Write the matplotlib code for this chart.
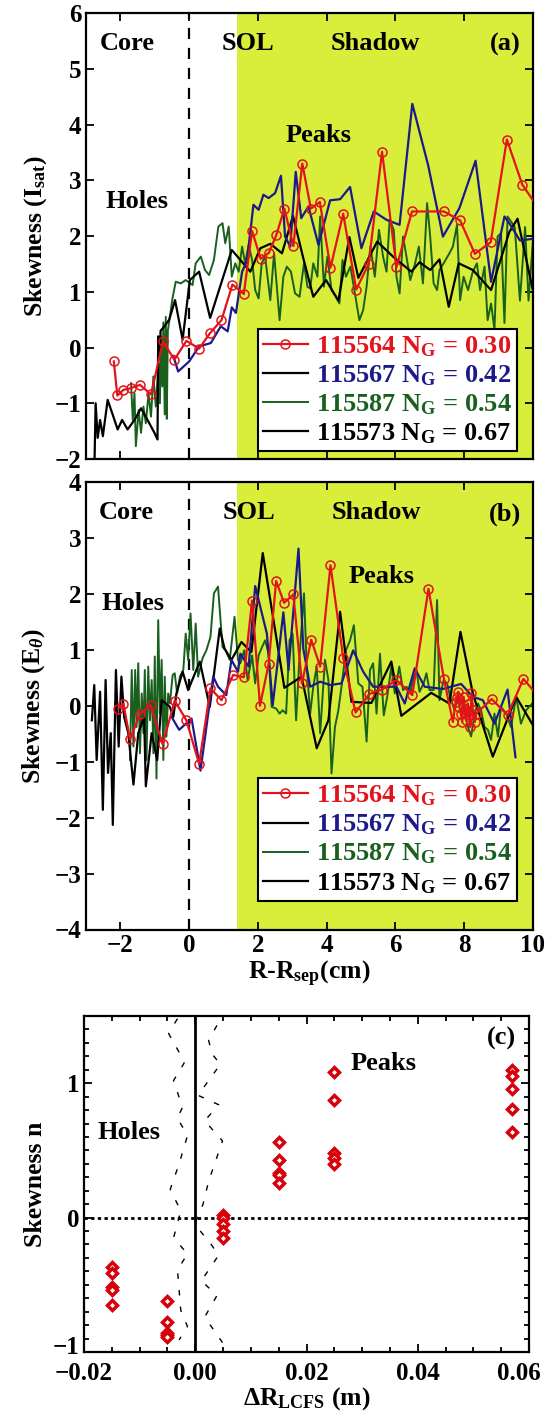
import matplotlib
matplotlib.use("Agg")
import matplotlib.pyplot as plt
from matplotlib.lines import Line2D
from matplotlib.ticker import MultipleLocator, FuncFormatter
from matplotlib.transforms import ScaledTranslation

# ----------------------------------------------------------------
# Data
# ----------------------------------------------------------------
# panel (a): skewness of I_sat
A_RED_X = [-2.19, -2.09, -1.91, -1.70, -1.43, -1.11, -0.76, -0.43, -0.08, 0.29, 0.61, 0.94, 1.26,
           1.59, 1.83, 2.08, 2.32, 2.53, 2.77, 3.03, 3.29, 3.54, 3.80, 4.11, 4.48, 4.86, 5.22, 5.61,
           6.03, 6.48, 7.41, 7.88, 8.31, 8.77, 9.24, 9.69, 10.0]
A_RED_Y = [-0.25, -0.86, -0.76, -0.73, -0.67, -0.84, 0.11, -0.22, 0.12, -0.02, 0.26, 0.49, 1.13,
           0.96, 2.09, 1.59, 1.70, 2.01, 2.49, 1.82, 3.30, 2.49, 2.61, 1.43, 2.40, 1.04, 1.50, 3.51,
           1.44, 2.44, 2.44, 2.28, 1.68, 1.89, 3.73, 2.92, 2.64]

A_BLUE_X = [-0.46, -0.32, 0.0, 0.29, 0.63, 0.92, 1.12, 1.24, 1.36, 1.54, 1.68, 1.87, 2.02, 2.16,
            2.31, 2.50, 2.67, 2.79, 2.94, 3.10, 3.26, 3.47, 3.76, 4.10, 4.39, 4.68, 5.01, 5.37,
            5.74, 6.12, 6.49, 6.95, 7.38, 7.86, 8.33, 8.78, 9.17, 9.31, 9.62, 10.0]
A_BLUE_Y = [-0.15, -0.43, -0.25, 0.02, 0.08, 0.38, 0.29, 0.72, 0.62, 1.36, 1.55, 2.56, 2.47, 2.74,
            2.68, 2.77, 3.08, 1.99, 1.81, 3.15, 2.32, 2.53, 1.84, 2.64, 2.66, 2.88, 1.78, 2.44,
            2.29, 2.20, 4.37, 3.27, 1.99, 2.50, 3.35, 1.18, 2.35, 2.23, 1.92, 1.95]

A_GREEN_X = [-1.69, -1.64, -1.59, -1.55, -1.47, -1.40, -1.33, -1.26, -1.18, -1.11, -1.04, -0.97,
             -0.89, -0.85, -0.82, -0.78, -0.75, -0.71, -0.68, -0.65, -0.62, -0.55, -0.48, -0.39,
             -0.24, -0.10, 0.10, 0.19, 0.34, 0.46, 0.58, 0.72, 0.85, 0.97,
             1.05, 1.15, 1.24, 1.34, 1.44, 1.54, 1.63, 1.73, 1.83, 1.92, 2.02, 2.11, 2.21, 2.36,
             2.47, 2.63, 2.74, 2.84, 2.96, 3.08, 3.21, 3.34, 3.44, 3.52, 3.61, 3.73, 3.81, 3.92,
             4.02, 4.14, 4.27, 4.37, 4.46, 4.56, 4.69, 4.82, 4.95, 5.06, 5.16, 5.27, 5.40, 5.52,
             5.64, 5.74, 5.83, 5.95, 6.03, 6.12, 6.22, 6.32, 6.43, 6.56, 6.68, 6.80, 6.92, 7.01,
             7.11, 7.21, 7.28, 7.40, 7.57, 7.67, 7.79, 7.88, 7.98, 8.11, 8.25, 8.37, 8.46, 8.59,
             8.68, 8.78, 8.88, 8.97, 9.07, 9.17, 9.26, 9.47, 9.62, 9.77, 9.87, 10.0]
A_GREEN_Y = [-0.64, -1.30, -0.82, -1.77, -1.12, -1.53, -1.06, -1.36, -0.82, -1.24, -0.52, -1.06,
             -0.28, -1.00, 0.20, -0.70, 0.45, -1.20, 0.55, -1.28, 0.30, 0.60, 0.90, 1.18,
             1.15, 1.21, 1.12, 1.51, 1.63, 1.39, 1.30, 1.57, 2.17, 2.23,
             1.87, 2.17, 1.27, 1.51, 1.36, 1.81, 1.51, 1.84, 1.57, 1.03, 0.88, 1.51, 1.63, 0.85,
             1.69, 0.49, 1.27, 1.45, 1.36, 0.97, 0.91, 1.51, 1.09, 1.06, 1.51, 1.27, 2.35, 1.09,
             1.63, 1.03, 0.91, 0.79, 1.57, 1.27, 1.45, 0.97, 0.49, 0.67, 1.09, 1.81, 1.27, 2.11,
             1.63, 1.36, 2.29, 2.11, 1.27, 0.97, 1.99, 1.63, 1.21, 1.48, 1.81, 1.15, 2.59, 1.99,
             1.15, 1.03, 1.39, 1.51, 1.69, 1.81, 2.20, 0.85, 1.27, 1.03, 1.36, 1.51, 1.03, 1.45,
             0.49, 0.79, 0.32, 1.99, 2.05, 0.44, 2.35, 2.16, 0.84, 2.16, 0.84, 1.92]

A_BLACK_X = [-2.75, -2.72, -2.66, -2.59, -2.51, -2.37, -2.22, -2.08, -1.95, -1.79, -1.59, -1.40,
             -1.21, -1.01, -0.92, -0.90, -0.86, -0.83, -0.72, -0.58, -0.41, -0.19, 0.02, 0.29,
             0.61, 1.24, 1.78, 2.07, 2.36, 2.70, 3.02, 3.32, 3.61, 3.98, 4.34, 4.66, 4.92, 5.47,
             5.93, 6.46, 6.70, 7.01, 7.28, 7.55, 7.84, 8.25, 8.78, 9.31, 9.55, 10.0]
A_BLACK_Y = [-1.98, -1.00, -1.62, -1.30, -1.59, -0.94, -1.21, -1.47, -1.30, -1.47, -1.30, -1.09,
             -1.30, -1.53, -1.65, 0.20, -0.15, 0.30, 0.38, 0.50, 0.85, 0.14, 1.21, 1.36,
             0.53, 1.75, 1.36, 1.78, 1.86, 1.69, 2.36, 1.60, 0.91, 1.21, 0.84, 1.98, 1.25, 1.90,
             1.63, 1.36, 1.53, 1.39, 1.58, 0.73, 1.51, 1.39, 1.03, 2.07, 2.31, 1.02]

# panel (b): skewness of E_theta
B_RED_X = [-2.06, -1.91, -1.72, -1.43, -1.12, -0.77, -0.42, -0.08, 0.29, 0.62, 0.94, 1.28, 1.59,
           1.83, 2.06, 2.31, 2.53, 2.76, 3.03, 3.28, 3.55, 3.81, 4.11, 4.48, 4.84, 5.24, 5.61,
           6.03, 6.49, 6.96, 7.41, 7.67, 7.75, 7.79, 7.83, 7.86, 7.90, 7.94, 7.98, 8.02, 8.06,
           8.10, 8.13, 8.17, 8.21, 8.25, 8.31, 8.35, 8.80, 9.26, 9.72, 10.0]
B_RED_Y = [-0.05, 0.03, -0.60, -0.15, 0.01, -0.69, 0.09, -0.26, -1.04, 0.31, 0.10, 0.55, 0.51,
           1.88, 0.00, 0.74, 2.23, 1.84, 1.99, 0.40, 1.18, 0.70, 2.51, 0.86, -0.12, 0.21, 0.29,
           0.46, 0.19, 2.09, 0.48, -0.29, 0.07, 0.16, 0.25, -0.02, -0.14, -0.29, 0.16, -0.05, -0.26,
           0.04, -0.17, -0.38, 0.22, -0.08, -0.29, -0.14, 0.12, -0.17, 0.48, 0.28]

B_BLUE_X = [-0.51, -0.29, 0.07, 0.33, 0.70, 0.84, 1.08, 1.23, 1.42, 1.49, 1.73, 1.92, 2.26, 2.43,
            2.74, 2.89, 3.18, 3.32, 3.52, 3.81, 4.10, 4.43, 4.77, 5.06, 5.35, 5.74, 6.03, 6.27,
            6.56, 6.85, 7.38, 7.91, 8.25, 8.54, 8.88, 9.26, 9.49]
B_BLUE_Y = [-0.20, -0.43, -0.23, -1.16, 0.52, 0.34, 0.19, 0.82, 0.61, 0.93, 0.70, 2.14, 1.29, 0.01,
            1.67, 0.64, 2.81, 1.02, 0.34, 0.43, 0.37, 0.40, 0.99, 0.61, 0.34, 0.34, 0.34, 0.04,
            0.67, 0.34, 0.30, 0.39, 0.16, 0.10, -0.32, 0.29, -0.92]

B_GREEN_X = [-1.72, -1.67, -1.62, -1.57, -1.53, -1.48, -1.43, -1.38, -1.33, -1.29, -1.24, -1.19,
             -1.14, -1.09, -1.04, -1.00, -0.95, -0.90, -0.85, -0.80, -0.75, -0.71, -0.66, -0.61,
             -0.56, -0.48, -0.42, -0.35, -0.27, -0.17, -0.10, -0.03, 0.04, 0.12, 0.19, 0.26,
             0.39, 0.50, 0.62, 0.72, 0.84, 0.97, 1.06, 1.18, 1.32, 1.42,
             1.49, 1.60, 1.70, 1.83, 1.92, 2.02, 2.12, 2.21, 2.31, 2.40, 2.53, 2.63, 2.72, 2.82,
             2.92, 3.01, 3.11, 3.21, 3.34, 3.42, 3.52, 3.61, 3.71, 3.81, 3.95, 4.05, 4.14, 4.24,
             4.34, 4.43, 4.56, 4.68, 4.79, 4.92, 5.04, 5.16, 5.26, 5.35, 5.45, 5.55, 5.66, 5.76,
             5.88, 5.98, 6.11, 6.22, 6.32, 6.43, 6.51, 6.61, 6.70, 6.82, 6.90, 6.99, 7.11, 7.21,
             7.28, 7.40, 7.50, 7.59, 7.72, 7.82, 7.91, 8.01, 8.11, 8.20, 8.30, 8.40, 8.49, 8.59,
             8.69, 8.78, 8.88, 8.98, 9.07, 9.22, 9.36, 9.51, 9.65, 9.80, 9.98]
B_GREEN_Y = [-0.97, 0.64, -0.73, 0.64, -0.38, 0.76, -0.85, 0.22, -0.49, 0.64, -0.97, 0.70,
             -0.26, 0.46, -0.85, 0.88, -1.30, 1.53, -0.14, 0.82, -0.97, 0.52, -0.55, 0.22,
             0.04, 0.55, 0.58, 0.22, 0.52, 0.64, 1.29, 0.82, 1.65, 0.64, 1.47, 0.52,
             0.85, 0.99, 1.23, 2.01, 2.13, 1.05, 0.99, 0.82, 1.59, 0.82,
             0.76, 0.99, 0.46, 0.90, 0.40, 0.90, 1.05, 1.17, 0.93, -0.02, -0.05, -0.14, -0.08, -0.14,
             1.17, 1.29, -0.26, 0.88, 2.01, 0.70, -0.14, 0.34, 0.70, -0.49, 0.82, 0.46, -1.21, -0.38,
             -0.08, 0.34, 0.99, 1.17, 1.44, 0.40, 0.34, -0.64, 0.64, 0.76, -0.14, 0.93, -0.17, 0.16,
             0.70, 0.22, 0.70, 0.28, 0.34, 0.22, 0.46, 0.64, 0.25, 0.40, 0.58, 0.28, 0.28, 1.89,
             0.10, 0.46, 0.40, 0.16, -0.08, 0.16, 0.10, -0.14, -0.38, -0.55, -0.14, 0.04, -0.08, -0.38,
             -0.43, -0.61, -0.14, -0.55, -0.02, -0.14, -0.38, 0.16, -0.32, -0.08, 0.04]

B_BLACK_X = [-2.83, -2.76, -2.69, -2.59, -2.51, -2.43, -2.36, -2.28, -2.22, -2.13, -2.05, -1.97,
             -1.89, -1.77, -1.62, -1.48, -1.31, -1.26, -1.09, -0.93, -0.80, -0.56, -0.46, -0.37,
             -0.19, -0.03, 0.31, 0.60, 0.89, 1.03, 1.23, 1.52, 1.81, 2.14, 2.77, 3.27, 3.71, 4.05,
             4.39, 4.72, 5.30, 5.88, 6.17, 7.04, 7.57, 7.89, 8.25, 8.83, 9.51, 10.0]
B_BLACK_Y = [-0.26, 0.37, -0.97, 0.25, -1.86, 0.46, -1.20, -0.49, -2.13, 0.64, -0.73, 0.52,
             -0.20, -0.49, -1.41, -0.49, -0.20, -1.44, -0.49, -0.97, 0.10, -0.02, -0.20, 0.22,
             0.61, 0.28, 0.79, -0.02, 1.38, 1.02, 0.82, 1.14, 0.96, 2.73, 0.32, 0.52, -0.76, -0.26,
             1.68, 0.07, 0.05, 0.79, -0.18, 0.23, 0.04, 1.32, 0.22, -0.91, 0.16, -0.35]

SHOTS = ["115564", "115567", "115587", "115573"]
NG = ["0.30", "0.42", "0.54", "0.67"]

# panel (c): skewness of density vs distance to LCFS
C_X = [-0.015] * 5 + [-0.005] * 5 + [0.005] * 5 + [0.015] * 5 + [0.025] * 5 + [0.057] * 5
C_Y = [-0.37, -0.41, -0.52, -0.54, -0.65,
       -0.62, -0.78, -0.855, -0.87, -0.885,
       0.02, 0.0, -0.05, -0.10, -0.15,
       0.56, 0.43, 0.335, 0.315, 0.256,
       1.086, 0.874, 0.483, 0.446, 0.397,
       1.098, 1.054, 0.96, 0.808, 0.638]

# dashed curves around the LCFS in panel (c)
C_DASH_L_X = [-0.0032, -0.0048, -0.0029, -0.0020, -0.0039, -0.0023, -0.0032, -0.0014, -0.0029,
              -0.0045, -0.0026, -0.0039, -0.0014, -0.0032, -0.0026, -0.0014, -0.0029]
C_DASH_L_Y = [1.48, 1.37, 1.23, 1.15, 1.02, 0.82, 0.74, 0.61, 0.40, 0.21, 0.05, -0.15, -0.27,
              -0.39, -0.69, -0.81, -0.91]
C_DASH_R_X = [0.0039, 0.0024, 0.0030, 0.0045, 0.0005, 0.0042, 0.0017, 0.0049, 0.0024, 0.0014,
              -0.0001, 0.0027, 0.0042, 0.0011, 0.0039, 0.0017, 0.0049]
C_DASH_R_Y = [1.43, 1.32, 1.22, 1.14, 0.91, 0.84, 0.72, 0.57, 0.27, 0.10, -0.05, -0.19, -0.28,
              -0.47, -0.58, -0.74, -0.93]

# ----------------------------------------------------------------
# Style
# ----------------------------------------------------------------
RED = "#e3131b"
BLUE = "#1c1a8a"
GREEN = "#19601f"
BLACK = "#000000"
SHADE = "#d9ed3b"
C_RED = "#d8000a"

plt.rcParams["font.family"] = ["Liberation Serif", "DejaVu Serif"]
plt.rcParams["font.weight"] = "bold"
plt.rcParams["axes.labelweight"] = "bold"
plt.rcParams["mathtext.fontset"] = "custom"
plt.rcParams["mathtext.rm"] = "Liberation Serif:bold"
plt.rcParams["mathtext.it"] = "Liberation Serif:italic:bold"
plt.rcParams["mathtext.bf"] = "Liberation Serif:bold"
plt.rcParams["axes.linewidth"] = 1.6

TICK_FS = 18
LABEL_FS = 18.5
TEXT_FS = 19
LEG_FS = 19

W, H = 545, 1418
fig = plt.figure(figsize=(W / 100, H / 100), dpi=100)


def frac(left, top, right, bottom):
    return [left / W, 1 - bottom / H, (right - left) / W, (bottom - top) / H]


ax_a = fig.add_axes(frac(86, 13, 533, 459))
ax_b = fig.add_axes(frac(86, 482, 533, 929.5))
ax_c = fig.add_axes(frac(84, 1016, 529, 1352))


def style_ticks(ax):
    ax.tick_params(axis="both", which="both", direction="in", top=True, right=True,
                   labelsize=TICK_FS, width=1.3)
    ax.tick_params(which="major", length=6)
    ax.tick_params(which="minor", length=3.5)


def profile_panel(ax, reds, blues, greens, blacks, ylim, tag, legend_y, texts):
    ax.axvspan(1.4, 10, color=SHADE, lw=0, zorder=0)
    ax.axvline(0, color="black", lw=1.6, ls=(0, (5, 4)), zorder=1)
    ax.plot(*greens, color=GREEN, lw=1.4, zorder=2)
    ax.plot(*blacks, color=BLACK, lw=1.6, zorder=3)
    ax.plot(*blues, color=BLUE, lw=1.6, zorder=4)
    ax.plot(*reds, color=RED, lw=1.6, marker="o", ms=6.5, mfc="none", mew=1.1,
            markevery=slice(0, len(reds[0]) - 1), zorder=5)
    ax.set_xlim(-3, 10)
    ax.set_ylim(*ylim)
    ax.xaxis.set_major_locator(MultipleLocator(2))
    ax.yaxis.set_major_locator(MultipleLocator(1))
    style_ticks(ax)

    for label, x, y in texts:
        ax.text(x, y, label, fontsize=TEXT_FS, ha="center", va="center", zorder=6)
    ax.text(9.18, ylim[1] - 0.57, tag, fontsize=TEXT_FS, ha="center", va="center", zorder=6)

    handles = [
        Line2D([], [], color=RED, lw=1.6, marker="o", ms=6.5, mfc="none", mew=1.1),
        Line2D([], [], color=BLACK, lw=1.6),
        Line2D([], [], color=GREEN, lw=1.4),
        Line2D([], [], color=BLACK, lw=1.6),
    ]
    labels = [f"{s} N$_{{\\rm G}}$ = {n}" for s, n in zip(SHOTS, NG)]
    leg = ax.legend(handles, labels, loc="lower right", bbox_to_anchor=(0.964, legend_y),
                    fontsize=LEG_FS, frameon=True, fancybox=False, edgecolor="black",
                    framealpha=1, borderaxespad=0, borderpad=0.2, labelspacing=0.17,
                    handlelength=1.7, handletextpad=0.3)
    leg.get_frame().set_linewidth(1.5)
    leg.set_zorder(10)
    for txt, c in zip(leg.get_texts(), [RED, BLUE, GREEN, BLACK]):
        txt.set_color(c)


profile_panel(ax_a, (A_RED_X, A_RED_Y), (A_BLUE_X, A_BLUE_Y), (A_GREEN_X, A_GREEN_Y),
              (A_BLACK_X, A_BLACK_Y), (-2, 6), "(a)", 0.017,
              [("Core", -1.81, 5.46), ("SOL", 1.71, 5.46), ("Shadow", 5.41, 5.46),
               ("Peaks", 3.76, 3.81), ("Holes", -1.51, 2.61)])
ax_a.tick_params(labelbottom=False)
ax_a.set_ylabel("Skewness (I$_{\\rm sat}$)", fontsize=LABEL_FS, labelpad=4)

profile_panel(ax_b, (B_RED_X, B_RED_Y), (B_BLUE_X, B_BLUE_Y), (B_GREEN_X, B_GREEN_Y),
              (B_BLACK_X, B_BLACK_Y), (-4, 4), "(b)", 0.064,
              [("Core", -1.82, 3.46), ("SOL", 1.75, 3.46), ("Shadow", 5.43, 3.46),
               ("Peaks", 5.60, 2.31), ("Holes", -1.62, 1.82)])
ax_b.set_ylabel("Skewness (E$_\\theta$)", fontsize=LABEL_FS, labelpad=5)
ax_b.set_xlabel("R-R$_{\\rm sep}$(cm)", fontsize=LABEL_FS, labelpad=1)

# ---- panel (c) ----
ax_c.plot(C_DASH_L_X, C_DASH_L_Y, color="black", lw=1.0, ls=(0, (4, 8)), zorder=1)
ax_c.plot(C_DASH_R_X, C_DASH_R_Y, color="black", lw=1.0, ls=(0, (4, 8)), zorder=1)
ax_c.axvline(0, color="black", lw=2, zorder=2)
ax_c.axhline(0, color="black", lw=2, ls=(0, (1.2, 1.2)), zorder=2)
ax_c.plot(C_X, C_Y, ls="none", marker="D", ms=4.6, mfc="white", mec=C_RED, mew=2.5, zorder=3)
ax_c.set_xlim(-0.02, 0.06)
ax_c.set_ylim(-1, 1.5)
ax_c.xaxis.set_major_locator(MultipleLocator(0.02))
ax_c.xaxis.set_minor_locator(MultipleLocator(0.005))
ax_c.xaxis.set_major_formatter(FuncFormatter(lambda v, p: f"{v:.2f}".replace("-", "\u2212")))
ax_c.yaxis.set_major_locator(MultipleLocator(1))
ax_c.yaxis.set_minor_locator(MultipleLocator(0.1))
style_ticks(ax_c)
ax_c.tick_params(axis="x", which="major", pad=7)
ax_c.text(0.0551, 1.33, "(c)", fontsize=TEXT_FS, ha="center", va="center")
ax_c.text(0.0338, 1.15, "Peaks", fontsize=TEXT_FS, ha="center", va="center")
ax_c.text(-0.012, 0.63, "Holes", fontsize=TEXT_FS, ha="center", va="center")
ax_c.set_ylabel("Skewness n", fontsize=LABEL_FS, labelpad=4)
ax_c.set_xlabel("\u0394R$_{\\rm LCFS}$ (m)", fontsize=LABEL_FS, labelpad=0)

# make sure every tick label is bold, then nudge the crowded labels of (c)
fig.canvas.draw()
for ax in (ax_a, ax_b, ax_c):
    for lbl in ax.get_xticklabels() + ax.get_yticklabels():
        lbl.set_fontweight("bold")
for lbl in ax_c.get_xticklabels():
    if lbl.get_text() == "0.06":
        lbl.set_transform(lbl.get_transform() + ScaledTranslation(-0.10, 0, fig.dpi_scale_trans))
for lbl in ax_c.get_yticklabels():
    if lbl.get_text() == "\u22121":
        lbl.set_transform(lbl.get_transform() + ScaledTranslation(0, 0.07, fig.dpi_scale_trans))

fig.savefig("out.png", dpi=100)
plt.close(fig)
